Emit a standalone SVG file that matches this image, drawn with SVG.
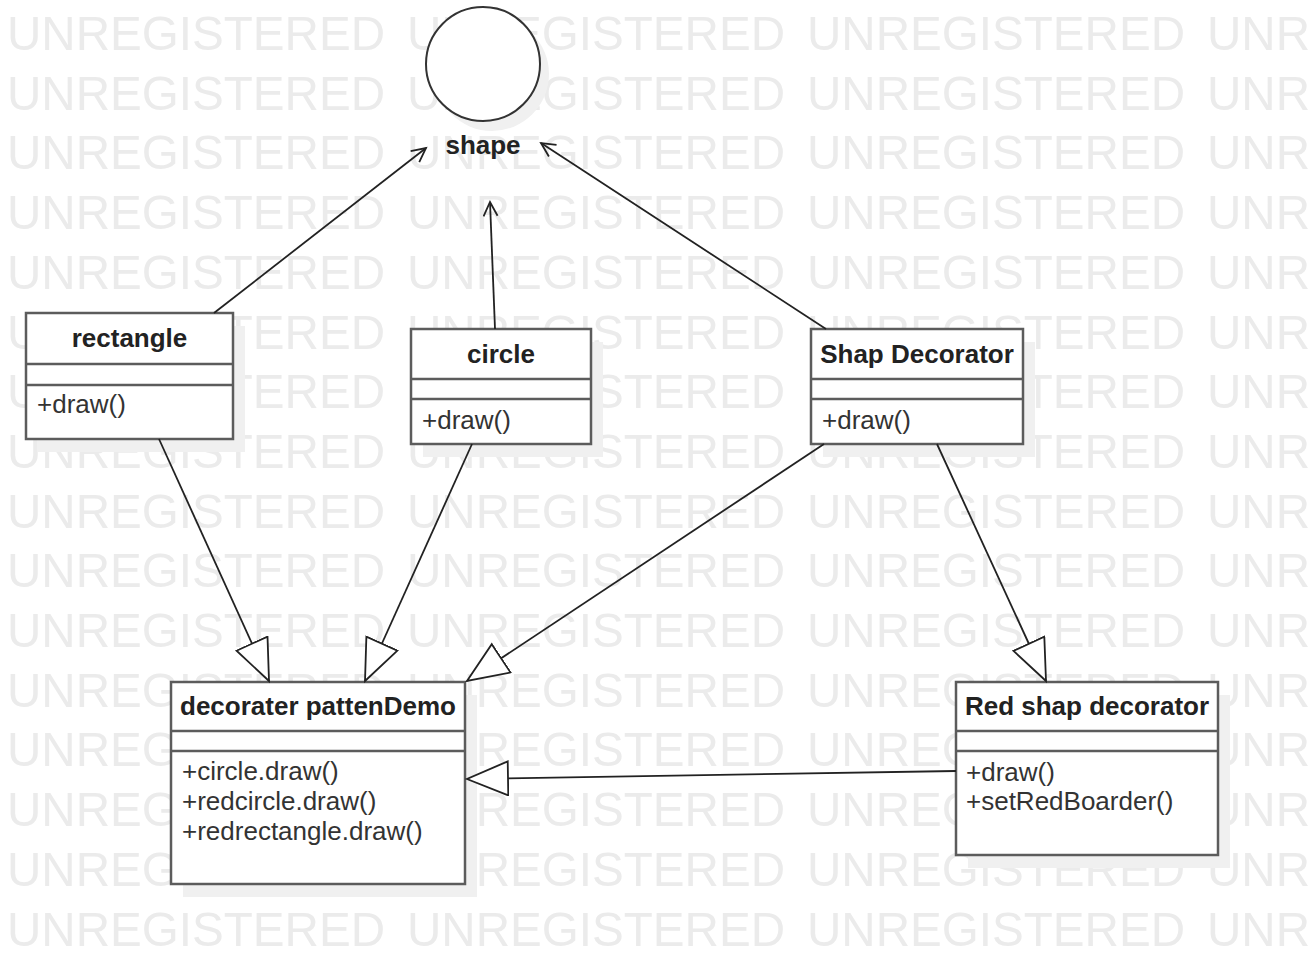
<svg xmlns="http://www.w3.org/2000/svg" xmlns:xlink="http://www.w3.org/1999/xlink" width="1311" height="957" viewBox="0 0 1311 957">
<style>
.wm{font-family:"Liberation Sans",Arial,sans-serif;font-size:49px;fill:#ebebeb}
.box{fill:#ffffff;stroke:#5c5c5c;stroke-width:2.5}
.sep{stroke:#5c5c5c;stroke-width:2.5}
.shadow{fill:#f0f0f0}
.title{font-family:"Liberation Sans",Arial,sans-serif;font-size:26px;font-weight:bold;fill:#222;text-anchor:middle}
.op{font-family:"Liberation Sans",Arial,sans-serif;font-size:26px;fill:#333}
.conn{fill:none;stroke:#222;stroke-width:1.8}
</style>
<defs>
<marker id="open" markerWidth="20" markerHeight="18" refX="16" refY="8" orient="auto" markerUnits="userSpaceOnUse">
<path d="M2,1 L16,8 L2,15" fill="none" stroke="#222" stroke-width="1.8"/>
</marker>
<marker id="tri" markerWidth="46" markerHeight="38" refX="42" refY="18" orient="auto" markerUnits="userSpaceOnUse">
<path d="M1,1 L42,18 L1,35 Z" fill="#ffffff" stroke="#222" stroke-width="1.8"/>
</marker>
<g id="wmrow">
<text class="wm" y="0"><tspan x="7" textLength="378" lengthAdjust="spacingAndGlyphs">UNREGISTERED</tspan></text>
<text class="wm" y="0"><tspan x="407" textLength="378" lengthAdjust="spacingAndGlyphs">UNREGISTERED</tspan></text>
<text class="wm" y="0"><tspan x="807" textLength="378" lengthAdjust="spacingAndGlyphs">UNREGISTERED</tspan></text>
<text class="wm" y="0"><tspan x="1207" textLength="378" lengthAdjust="spacingAndGlyphs">UNREGISTERED</tspan></text>
</g>
</defs>
<rect width="1311" height="957" fill="#ffffff"/>
<g id="watermark">
<use xlink:href="#wmrow" href="#wmrow" y="50"/>
<use xlink:href="#wmrow" href="#wmrow" y="109.7"/>
<use xlink:href="#wmrow" href="#wmrow" y="169.4"/>
<use xlink:href="#wmrow" href="#wmrow" y="229.1"/>
<use xlink:href="#wmrow" href="#wmrow" y="288.8"/>
<use xlink:href="#wmrow" href="#wmrow" y="348.5"/>
<use xlink:href="#wmrow" href="#wmrow" y="408.2"/>
<use xlink:href="#wmrow" href="#wmrow" y="467.9"/>
<use xlink:href="#wmrow" href="#wmrow" y="527.6"/>
<use xlink:href="#wmrow" href="#wmrow" y="587.3"/>
<use xlink:href="#wmrow" href="#wmrow" y="647"/>
<use xlink:href="#wmrow" href="#wmrow" y="706.7"/>
<use xlink:href="#wmrow" href="#wmrow" y="766.4"/>
<use xlink:href="#wmrow" href="#wmrow" y="826.1"/>
<use xlink:href="#wmrow" href="#wmrow" y="885.8"/>
<use xlink:href="#wmrow" href="#wmrow" y="945.5"/>
</g>
<g id="shadows">
<ellipse class="shadow" cx="492" cy="74" rx="57" ry="57"/>
<rect class="shadow" x="38" y="326" width="207" height="126"/>
<rect class="shadow" x="423" y="342" width="180" height="115"/>
<rect class="shadow" x="823" y="342" width="212" height="115"/>
<rect class="shadow" x="183" y="695" width="294" height="202"/>
<rect class="shadow" x="968" y="695" width="262" height="173"/>
</g>
<g id="shape">
<circle cx="483" cy="64" r="57" fill="#ffffff" stroke="#333" stroke-width="2"/>
<text class="title" x="483" y="154" font-size="25">shape</text>
</g>
<g id="rectangle">
<rect class="box" x="26" y="313" width="207" height="126"/>
<line class="sep" x1="26" y1="364" x2="233" y2="364"/>
<line class="sep" x1="26" y1="385" x2="233" y2="385"/>
<text class="title" x="129.5" y="347">rectangle</text>
<text class="op" x="37" y="413">+draw()</text>
</g>
<g id="circle">
<rect class="box" x="411" y="329" width="180" height="115"/>
<line class="sep" x1="411" y1="379" x2="591" y2="379"/>
<line class="sep" x1="411" y1="399" x2="591" y2="399"/>
<text class="title" x="501" y="363">circle</text>
<text class="op" x="422" y="429">+draw()</text>
</g>
<g id="shap-decorator">
<rect class="box" x="811" y="329" width="212" height="115"/>
<line class="sep" x1="811" y1="379" x2="1023" y2="379"/>
<line class="sep" x1="811" y1="399" x2="1023" y2="399"/>
<text class="title" x="917" y="363">Shap Decorator</text>
<text class="op" x="822" y="429">+draw()</text>
</g>
<g id="decorater-pattenDemo">
<rect class="box" x="171" y="682" width="294" height="202"/>
<line class="sep" x1="171" y1="731" x2="465" y2="731"/>
<line class="sep" x1="171" y1="751" x2="465" y2="751"/>
<text class="title" x="318" y="715">decorater pattenDemo</text>
<text class="op" x="182" y="780">+circle.draw()</text>
<text class="op" x="182" y="810">+redcircle.draw()</text>
<text class="op" x="182" y="840">+redrectangle.draw()</text>
</g>
<g id="red-shap-decorator">
<rect class="box" x="956" y="682" width="262" height="173"/>
<line class="sep" x1="956" y1="731" x2="1218" y2="731"/>
<line class="sep" x1="956" y1="751" x2="1218" y2="751"/>
<text class="title" x="1087" y="715">Red shap decorator</text>
<text class="op" x="966" y="781">+draw()</text>
<text class="op" x="966" y="810">+setRedBoarder()</text>
</g>
<g id="connectors">
<path class="conn" d="M214,313 L426,148" marker-end="url(#open)"/>
<path class="conn" d="M495,329 L490,202" marker-end="url(#open)"/>
<path class="conn" d="M826,329 L541,143" marker-end="url(#open)"/>
<path class="conn" d="M159,439 L269,681" marker-end="url(#tri)"/>
<path class="conn" d="M472,444 L365,681" marker-end="url(#tri)"/>
<path class="conn" d="M824,444 L467,681" marker-end="url(#tri)"/>
<path class="conn" d="M937,444 L1046,681" marker-end="url(#tri)"/>
<path class="conn" d="M956,771 L467,779" marker-end="url(#tri)"/>
</g>
</svg>
